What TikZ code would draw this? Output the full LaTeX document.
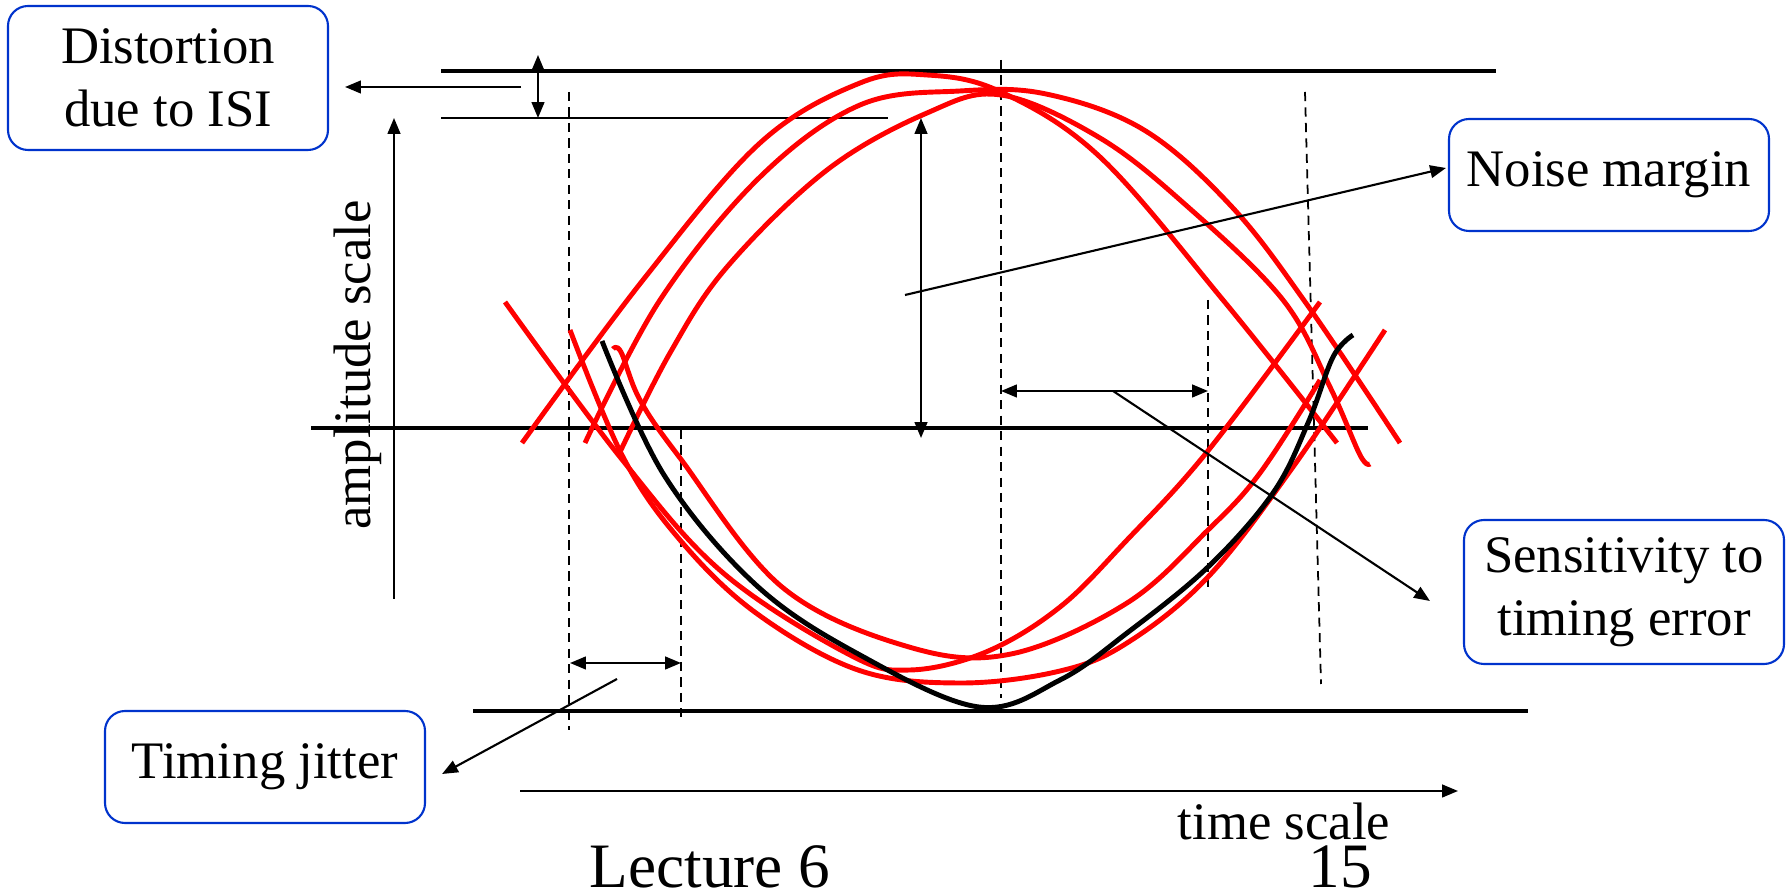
\documentclass[tikz,border=0pt]{standalone}
\usepackage{fontspec}
\setmainfont{Liberation Serif}
\usetikzlibrary{arrows.meta,calc}
\definecolor{trace}{RGB}{255,0,0}
\definecolor{frame}{RGB}{0,51,204}
\tikzset{
  callout/.style={draw=frame, rounded corners=2mm, line width=0.6pt,
                  minimum width=32mm, minimum height=11.2mm, inner sep=0pt,
                  align=center, font=\fontsize{15}{18}\selectfont},
  rail/.style={line width=1.1pt},
  guide/.style={line width=0.5pt, dash pattern=on 2.6pt off 1.8pt},
  ptr/.style={-{Triangle[length=4.5pt,width=3.6pt]}, line width=0.6pt},
  span/.style={{Triangle[length=4.5pt,width=3.6pt]}-{Triangle[length=4.5pt,width=3.6pt]}, line width=0.6pt},
  eye/.style={trace, line width=1.4pt, line join=round},
  ink/.style={black, line width=1.4pt, line join=round},
  caption/.style={anchor=base, inner sep=0pt},
}

\begin{document}
\begin{tikzpicture}[x=0.1mm, y=-0.1mm]
  \useasboundingbox (0,0) rectangle (1788,895);
  % callouts
  \node[callout, minimum height=14.4mm] (dist) at (168,78) {Distortion\\due to ISI};
  \node[callout] (noise) at (1609,175) {Noise margin};
  \node[callout, minimum height=14.4mm] (sens) at (1624,592) {Sensitivity to\\timing error};
  \node[callout] (jit) at (265,767) {Timing jitter};

  % levels
  \draw[rail] (441,71) -- (1496,71);
  \draw[line width=0.6pt] (441,118) -- (888,118);
  \draw[rail] (311,428) -- (1368,428);
  \draw[rail] (473,711) -- (1528,711);

  % sampling instants
  \draw[guide] (569,92) -- (569,730);
  \draw[guide] (681,430) -- (681,717);
  \draw[guide] (1001,60) -- (1001,698);
  \draw[guide] (1208,300) -- (1208,590);
  \draw[guide] (1305,92) -- (1321,684);

  % upper traces
  \draw[eye] plot[smooth, tension=0.6] coordinates {(522,443) (643,280) (760,143) (860,83) (927,75)
    (1001,92) (1100,157) (1223,300) (1337,443)};
  \draw[eye] plot[smooth, tension=0.6] coordinates {(585,443) (660,300) (760,177) (860,105) (960,91)
    (1046,94) (1144,130) (1232,207) (1308,306) (1400,443)};
  \draw[eye] plot[smooth, tension=0.6] coordinates {(620,452) (670,353) (727,267) (827,170) (927,113)
    (1001,95) (1100,138) (1188,207) (1283,300) (1330,387) (1360,455) (1370,464)};

  % lower traces
  \draw[eye] plot[smooth, tension=0.6] coordinates {(613,349) (621,352) (640,400) (680,458) (782,587)
    (909,647) (1011,654) (1127,603) (1208,530) (1260,473) (1320,380)};
  \draw[eye] plot[smooth, tension=0.6] coordinates {(505,302) (620,457) (722,572) (850,655) (910,670)
    (986,652) (1060,607) (1127,540) (1207,452) (1320,302)};
  \draw[eye] plot[smooth, tension=0.6] coordinates {(570,330) (623,457) (680,540) (756,613) (858,670)
    (960,683) (1060,671) (1127,643) (1208,577) (1293,467) (1385,330)};
  \draw[ink] plot[smooth, tension=0.6] coordinates {(602,341) (664,475) (756,585) (860,655) (979,707)
    (1060,680) (1127,633) (1208,567) (1273,493) (1308,423) (1333,357) (1353,335)};

  % measures
  \draw[span] (538,55) -- (538,118);
  \draw[span] (921,118) -- (921,438);
  \draw[span] (1001,391) -- (1208,391);
  \draw[span] (570,663) -- (681,663);

  % axes
  \draw[ptr] (394,599) -- (394,118);
  \draw[ptr] (520,791) -- (1458,791);
  \node[caption, rotate=90, font=\fontsize{15}{18}\selectfont] (amp) at (370,365) {amplitude scale};
  \node[caption, font=\fontsize{15}{18}\selectfont] (time) at (1284,840) {time scale};

  % pointers
  \coordinate (isiA) at (521,87);
  \coordinate (nmA) at (905,295);
  \coordinate (teA) at (1113,391);
  \coordinate (tjA) at (617,679);
  \draw[ptr] (isiA) -- ($(dist.east)+(16,9)$);
  \draw[ptr] (nmA) -- ($(noise.west)+(-2,-7)$);
  \draw[ptr] (teA) -- ($(sens.west)+(-33,9)$);
  \draw[ptr] (tjA) -- ($(jit.east)+(16,7)$);

  % footer
  \node[caption, font=\fontsize{18}{22}\selectfont] (lect) at (710,888) {Lecture 6};
  \node[caption, font=\fontsize{18}{22}\selectfont] (page) at (1340,888) {15};
\end{tikzpicture}
\end{document}
